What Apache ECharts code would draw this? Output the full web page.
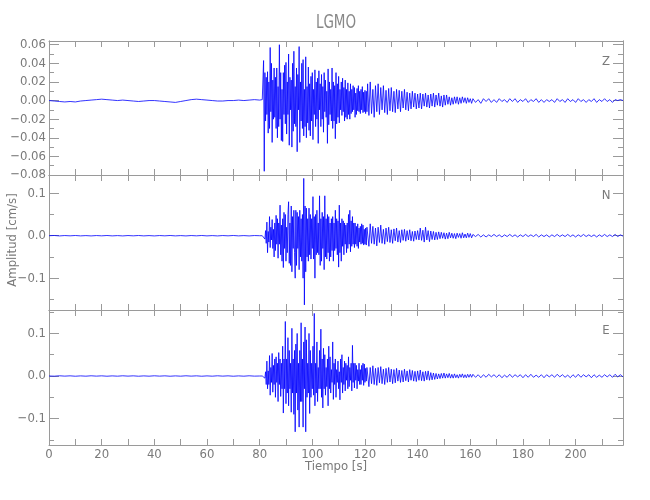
<!DOCTYPE html>
<html><head><meta charset="utf-8">
<script src="https://cdn.jsdelivr.net/npm/echarts@6/dist/echarts.min.js"></script>
<style>html,body{margin:0;padding:0;background:#fff}#c{width:650px;height:500px}</style>
</head><body><div id="c"></div>
<script>
// ---------- data (velocity, cm/s) ----------
const stationName = 'LGMO';
const componentNames = ['Z', 'N', 'E'];
// segment sampling: pre-event 0..80 s every 2 s; strong motion 81..120.75 s every 0.25 s;
// coda 121..160.5 s every 0.5 s; tail 161..218 s every 1 s
const preStart = 0, preStep = 2;
const strongStart = 81, strongStep = 0.25;
const codaStart = 121, codaStep = 0.5;
const tailStart = 161, tailStep = 1;

const zPre = [.000,-.0005,-.001,-.0015,-.001,-.0015,-.0005,.000,.0005,.001,
  .0015,.001,.0005,.000,.0005,.000,-.0005,-.001,-.0005,.000,
  .000,-.0005,-.001,-.0015,-.002,-.001,.000,.001,.0015,.001,
  .0005,.000,-.0005,-.0005,.000,.000,.0005,.000,.0005,.001,.0005];
const zStrong = [
  .001,-.001,.043,-.076,.030,-.022,.025,-.015,.031,-.035,
  .020,-.030,.057,-.012,.040,-.045,.022,-.020,.035,-.018,
  .025,-.030,.035,-.040,.015,-.028,.060,-.020,.030,-.043,
  .012,-.044,.030,-.015,.038,-.025,.041,-.036,.020,-.015,
  .050,-.048,.025,-.010,.022,-.050,.040,-.033,.053,-.025,
  .015,-.028,.035,-.055,.028,-.010,.058,-.045,.020,-.022,
  .040,-.030,.044,-.038,.012,-.028,.047,-.040,.015,-.024,
  .036,-.032,.018,-.038,.026,-.022,.030,-.042,.012,-.015,
  .033,-.028,.020,-.020,.024,-.046,.032,-.010,.018,-.028,
  .028,-.020,.015,-.034,.030,-.012,.022,-.018,.010,-.046,
  .034,-.026,.020,-.015,.012,-.022,.035,-.030,.020,-.022,
  .016,-.041,.030,-.025,.018,-.018,.026,-.024,.012,-.010,
  .020,-.016,.024,-.012,.014,-.022,.022,-.018,.012,-.020,
  .019,-.015,.010,-.020,.018,-.014,.012,-.012,.016,-.010,
  .014,-.018,.008,-.015,.013,-.011,.016,-.012,.010,-.014,
  .012,-.010,.015,-.013,.009,-.012,.011,-.014,.010,-.012];
const zCoda = [
  .018,-.016,.020,-.014,.012,-.018,.016,-.012,.018,-.015,.014,-.010,.016,-.013,.011,-.015,.013,-.011,.014,-.012,
  .010,-.013,.012,-.009,.011,-.012,.010,-.008,.012,-.010,.009,-.011,.008,-.009,.010,-.007,.008,-.009,.007,-.008,
  .008,-.009,.007,-.006,.008,-.007,.006,-.008,.007,-.006,.008,-.007,.006,-.005,.008,-.006,.005,-.007,.006,-.005,
  .006,-.004,.004,-.005,.003,-.004,.004,-.003,.004,-.004,.003,-.003,.004,-.002,.003,-.003,.003,-.002,.002,-.003];
const zTail = [.002,-.002,.001,-.003,.002,-.001,.002,-.002,.001,-.002,
  .002,-.001,.001,-.002,.002,-.001,.002,-.002,.001,-.001,
  .002,-.002,.001,-.001,.002,-.002,.001,-.002,.001,-.001,
  .001,-.002,.002,-.001,.001,-.002,.002,-.001,.001,-.002,
  .002,-.001,.001,-.002,.001,-.001,.002,-.002,.001,-.001,
  .002,-.001,.001,-.002,.001,.000,.001,.000];

const nPre = [.000,.0005,-.0005,.0004,-.0003,.0005,-.0004,.0003,-.0005,.0004,
  -.0003,.0005,-.0004,.0003,-.0005,.0004,-.0003,.0005,-.0004,.0003,
  -.0005,.0004,-.0003,.0005,-.0004,.0003,-.0005,.0004,-.0003,.0005,
  -.0004,.0003,-.0005,.0004,-.0003,.0005,-.0004,.0003,-.0005,.0004,.000];
const nStrong = [
  .000,.001,-.001,.002,-.008,.012,-.018,.032,-.040,.010,
  -.015,.045,-.028,.020,-.010,.038,-.030,.015,-.050,.030,
  -.035,.048,-.020,.040,-.053,.030,-.020,.072,-.045,.025,
  -.060,.040,-.075,.055,-.030,.050,-.060,.020,-.040,.050,
  .080,-.065,.030,-.070,.070,-.085,.045,-.030,.060,-.040,
  -.100,.060,-.070,.055,-.030,.045,-.080,.060,-.050,.040,
  -.060,.050,-.100,.135,-.163,.070,-.085,.065,-.050,.040,
  -.060,.065,-.045,.050,-.055,.040,-.030,.092,-.055,.045,
  -.100,.050,-.045,.060,-.040,.030,-.045,.094,-.070,.040,
  -.060,.055,-.030,.045,-.080,.094,-.050,.040,-.055,.050,
  -.040,.045,-.060,.030,-.050,.040,-.035,.045,-.060,.030,
  -.035,.060,-.030,.040,-.045,.035,-.074,.072,-.040,.030,
  -.060,.040,-.025,.035,-.045,.030,-.020,.025,-.040,.030,
  -.030,.050,-.020,.060,-.038,.035,-.025,.045,-.020,.030,
  -.028,.030,-.020,.022,-.025,.028,-.030,.018,-.015,.022,
  -.020,.028,-.018,.025,-.022,.015,-.020,.018,-.022,.020];
const nCoda = [
  .020,-.025,.028,-.018,.022,-.020,.018,-.024,.020,-.016,.025,-.018,.015,-.020,.018,-.014,.020,-.016,.014,-.018,
  .016,-.012,.018,-.015,.012,-.016,.014,-.011,.015,-.013,.012,-.010,.014,-.012,.010,-.013,.011,-.009,.012,-.010,
  .018,-.011,.013,-.015,.020,-.010,.012,-.014,.011,-.009,.010,-.010,.008,-.009,.009,-.007,.008,-.006,.007,-.008,
  .006,-.007,.008,-.005,.006,-.006,.005,-.007,.006,-.004,.005,-.006,.007,-.005,.004,-.005,.006,-.004,.005,-.005];
const nTail = [.003,-.002,.003,-.003,.002,-.003,.002,-.002,.003,-.002,
  .002,-.003,.002,-.002,.003,-.002,.002,-.003,.002,-.002,
  .003,-.002,.002,-.002,.003,-.003,.002,-.002,.002,-.003,
  .002,-.002,.003,-.002,.002,-.002,.003,-.002,.002,-.003,
  .002,-.002,.003,-.002,.002,-.002,.002,-.003,.002,-.002,
  .003,-.002,.002,-.002,.003,-.002,.002,-.001];

const ePre = [.000,-.0004,.0005,-.0003,.0004,-.0005,.0003,-.0004,.0005,-.0003,
  .0004,-.0005,.0003,-.0004,.0005,-.0003,.0004,-.0005,.0003,-.0004,
  .0005,-.0003,.0004,-.0005,.0003,-.0004,.0005,-.0003,.0004,-.0005,
  .0003,-.0004,.0005,-.0003,.0004,-.0005,.0003,-.0004,.0005,-.0003,.000];
const eStrong = [
  .000,.001,-.001,.003,-.005,.010,-.020,.035,-.030,.012,
  -.020,.048,-.045,.020,-.015,.053,-.038,.025,-.020,.040,
  -.050,.045,-.015,.030,-.060,.055,-.020,.040,-.048,.030,
  -.030,.070,-.087,.040,-.030,.128,-.065,.040,-.040,.090,
  -.070,.060,-.030,.030,-.085,.112,-.040,.040,-.090,.060,
  -.131,.075,-.040,.100,-.080,.030,-.120,.060,-.060,.125,
  -.060,.040,-.120,.080,-.030,.115,-.131,.085,-.050,.030,
  -.040,.100,-.088,.060,-.050,.030,-.030,.070,-.045,.147,
  -.070,.030,-.040,.080,-.060,.020,-.030,.060,-.030,.110,
  -.050,.040,-.075,.065,-.030,.050,-.045,.020,-.025,.040,
  -.070,.070,-.030,.045,-.040,.015,-.015,.080,-.055,.030,
  -.020,.040,-.050,.015,-.015,.035,-.030,.010,-.056,.040,
  -.015,.050,-.040,.020,-.020,.035,-.035,.030,-.010,.025,
  -.030,.045,-.025,.020,-.010,.030,-.035,.072,-.015,.030,
  -.028,.030,-.010,.025,-.030,.015,-.012,.030,-.020,.015,
  -.020,.025,-.010,.030,-.022,.028,-.015,.018,-.012,.020];
const eCoda = [
  .022,-.025,.020,-.018,.024,-.020,.018,-.022,.020,-.016,.022,-.018,.016,-.020,.018,-.015,.020,-.014,.016,-.018,
  .015,-.016,.018,-.012,.014,-.015,.013,-.014,.016,-.011,.012,-.014,.015,-.010,.013,-.012,.011,-.013,.012,-.010,
  .014,-.011,.010,-.012,.011,-.009,.012,-.010,.008,-.009,.007,-.008,.006,-.007,.005,-.006,.006,-.005,.007,-.005,
  .005,-.004,.006,-.005,.004,-.005,.005,-.004,.003,-.005,.004,-.003,.005,-.004,.003,-.004,.004,-.003,.004,-.003];
const eTail = [.004,-.003,.003,-.004,.003,-.003,.004,-.002,.003,-.003,
  .003,-.004,.002,-.003,.004,-.003,.003,-.002,.003,-.004,
  .003,-.003,.004,-.003,.002,-.003,.003,-.004,.003,-.002,
  .003,-.003,.004,-.002,.003,-.003,.002,-.004,.003,-.003,
  .004,-.003,.003,-.002,.003,-.004,.003,-.003,.002,-.003,
  .003,-.002,.003,-.003,.004,-.002,.003,-.002];

// axis ranges and tick values
const xMin = 0, xMax = 218;
const xTickValues = [10,20,30,40,50,60,70,80,90,100,110,120,130,140,150,160,170,180,190,200,210];
const xLabelValues = [0,20,40,60,80,100,120,140,160,180,200];
const yRanges = [[-0.08, 0.064], [-0.175, 0.143], [-0.162, 0.155]];
const yMajorTicks = [[-0.08,-0.06,-0.04,-0.02,0,0.02,0.04,0.06], [-0.1,0,0.1], [-0.1,0,0.1]];
const yMinorTicks = [[-0.07,-0.05,-0.03,-0.01,0.01,0.03,0.05], [-0.15,-0.05,0.05], [-0.15,-0.05,0.05,0.15]];
const yDecimals = [2, 1, 1];

// ---------- build ----------
function toPairs(pre, strong, coda, tail) {
  const out = [];
  pre.forEach((v, i) => out.push([preStart + i * preStep, v]));
  strong.forEach((v, i) => out.push([strongStart + i * strongStep, v]));
  coda.forEach((v, i) => out.push([codaStart + i * codaStep, v]));
  tail.forEach((v, i) => out.push([tailStart + i * tailStep, v]));
  return out;
}
const traces = [
  toPairs(zPre, zStrong, zCoda, zTail),
  toPairs(nPre, nStrong, nCoda, nTail),
  toPairs(ePre, eStrong, eCoda, eTail)
];

const FONT = '"Liberation Sans Narrow","DejaVu Sans Condensed","Roboto Condensed",sans-serif';
const TXT = '#7a7a7a';
const LINE = '#9a9a9a';
const gridTops = [41, 175, 310];
const gridHeights = [134, 135, 135];

const grid = [], xAxis = [], yAxis = [], series = [];
for (let i = 0; i < 3; i++) {
  grid.push({left: 49, right: 27, top: gridTops[i], height: gridHeights[i], containLabel: false});
  const xBase = {
    type: 'value', gridIndex: i, min: xMin, max: xMax,
    axisLine: {show: true, onZero: false, lineStyle: {color: LINE, width: 1}},
    axisTick: {show: true, inside: true, length: 6, customValues: xTickValues, lineStyle: {color: LINE}},
    splitLine: {show: false}
  };
  xAxis.push(Object.assign({}, xBase, {
    position: 'bottom',
    axisLabel: {show: i === 2, customValues: xLabelValues, color: TXT, fontFamily: FONT, fontSize: 13, margin: 3}
  }));
  xAxis.push(Object.assign({}, xBase, {position: 'top', axisLabel: {show: false}}));
  const [ymin, ymax] = yRanges[i];
  const dec = yDecimals[i];
  const yBase = (pos, ticks, len, labels) => ({
    type: 'value', gridIndex: i, position: pos, min: ymin, max: ymax,
    axisLine: {show: true, onZero: false, lineStyle: {color: LINE, width: 1}},
    axisTick: {show: true, inside: true, length: len, customValues: ticks, lineStyle: {color: LINE}},
    axisLabel: labels ? {show: true, customValues: yMajorTicks[i], color: TXT, fontFamily: FONT, fontSize: 13, margin: 3,
      formatter: v => Number(v).toFixed(dec).replace('-', '\u2212')} : {show: false},
    splitLine: {show: false}
  });
  yAxis.push(yBase('left', yMajorTicks[i], 10, true));
  yAxis.push(yBase('left', yMinorTicks[i], 5, false));
  yAxis.push(yBase('right', yMajorTicks[i], 10, false));
  yAxis.push(yBase('right', yMinorTicks[i], 5, false));
  series.push({
    type: 'line', xAxisIndex: 2 * i, yAxisIndex: 4 * i, data: traces[i],
    showSymbol: false, symbol: 'none', sampling: null, silent: true,
    lineStyle: {color: '#0000ff', width: 0.8}
  });
}

const graphic = [
  {type: 'text', x: 336, y: 23, scaleX: 0.75, style: {text: stationName, fill: '#888', font: '20px ' + FONT, textAlign: 'center', textVerticalAlign: 'middle'}},
  {type: 'text', x: 336, y: 467, style: {text: 'Tiempo [s]', fill: TXT, font: '13px ' + FONT, textAlign: 'center', textVerticalAlign: 'middle'}},
  {type: 'text', x: 13, y: 240, rotation: Math.PI / 2, style: {text: 'Amplitud [cm/s]', fill: TXT, font: '13px ' + FONT, textAlign: 'center', textVerticalAlign: 'middle'}}
];
componentNames.forEach((n, i) => {
  graphic.push({type: 'text', x: 606, y: gridTops[i] + 21, style: {text: n, fill: TXT, font: '13px ' + FONT, textAlign: 'center', textVerticalAlign: 'middle'}});
});

const chart = echarts.init(document.getElementById('c'), null, {renderer: 'canvas'});
chart.setOption({animation: false, backgroundColor: '#fff', grid, xAxis, yAxis, series, graphic});
</script>
</body></html>
